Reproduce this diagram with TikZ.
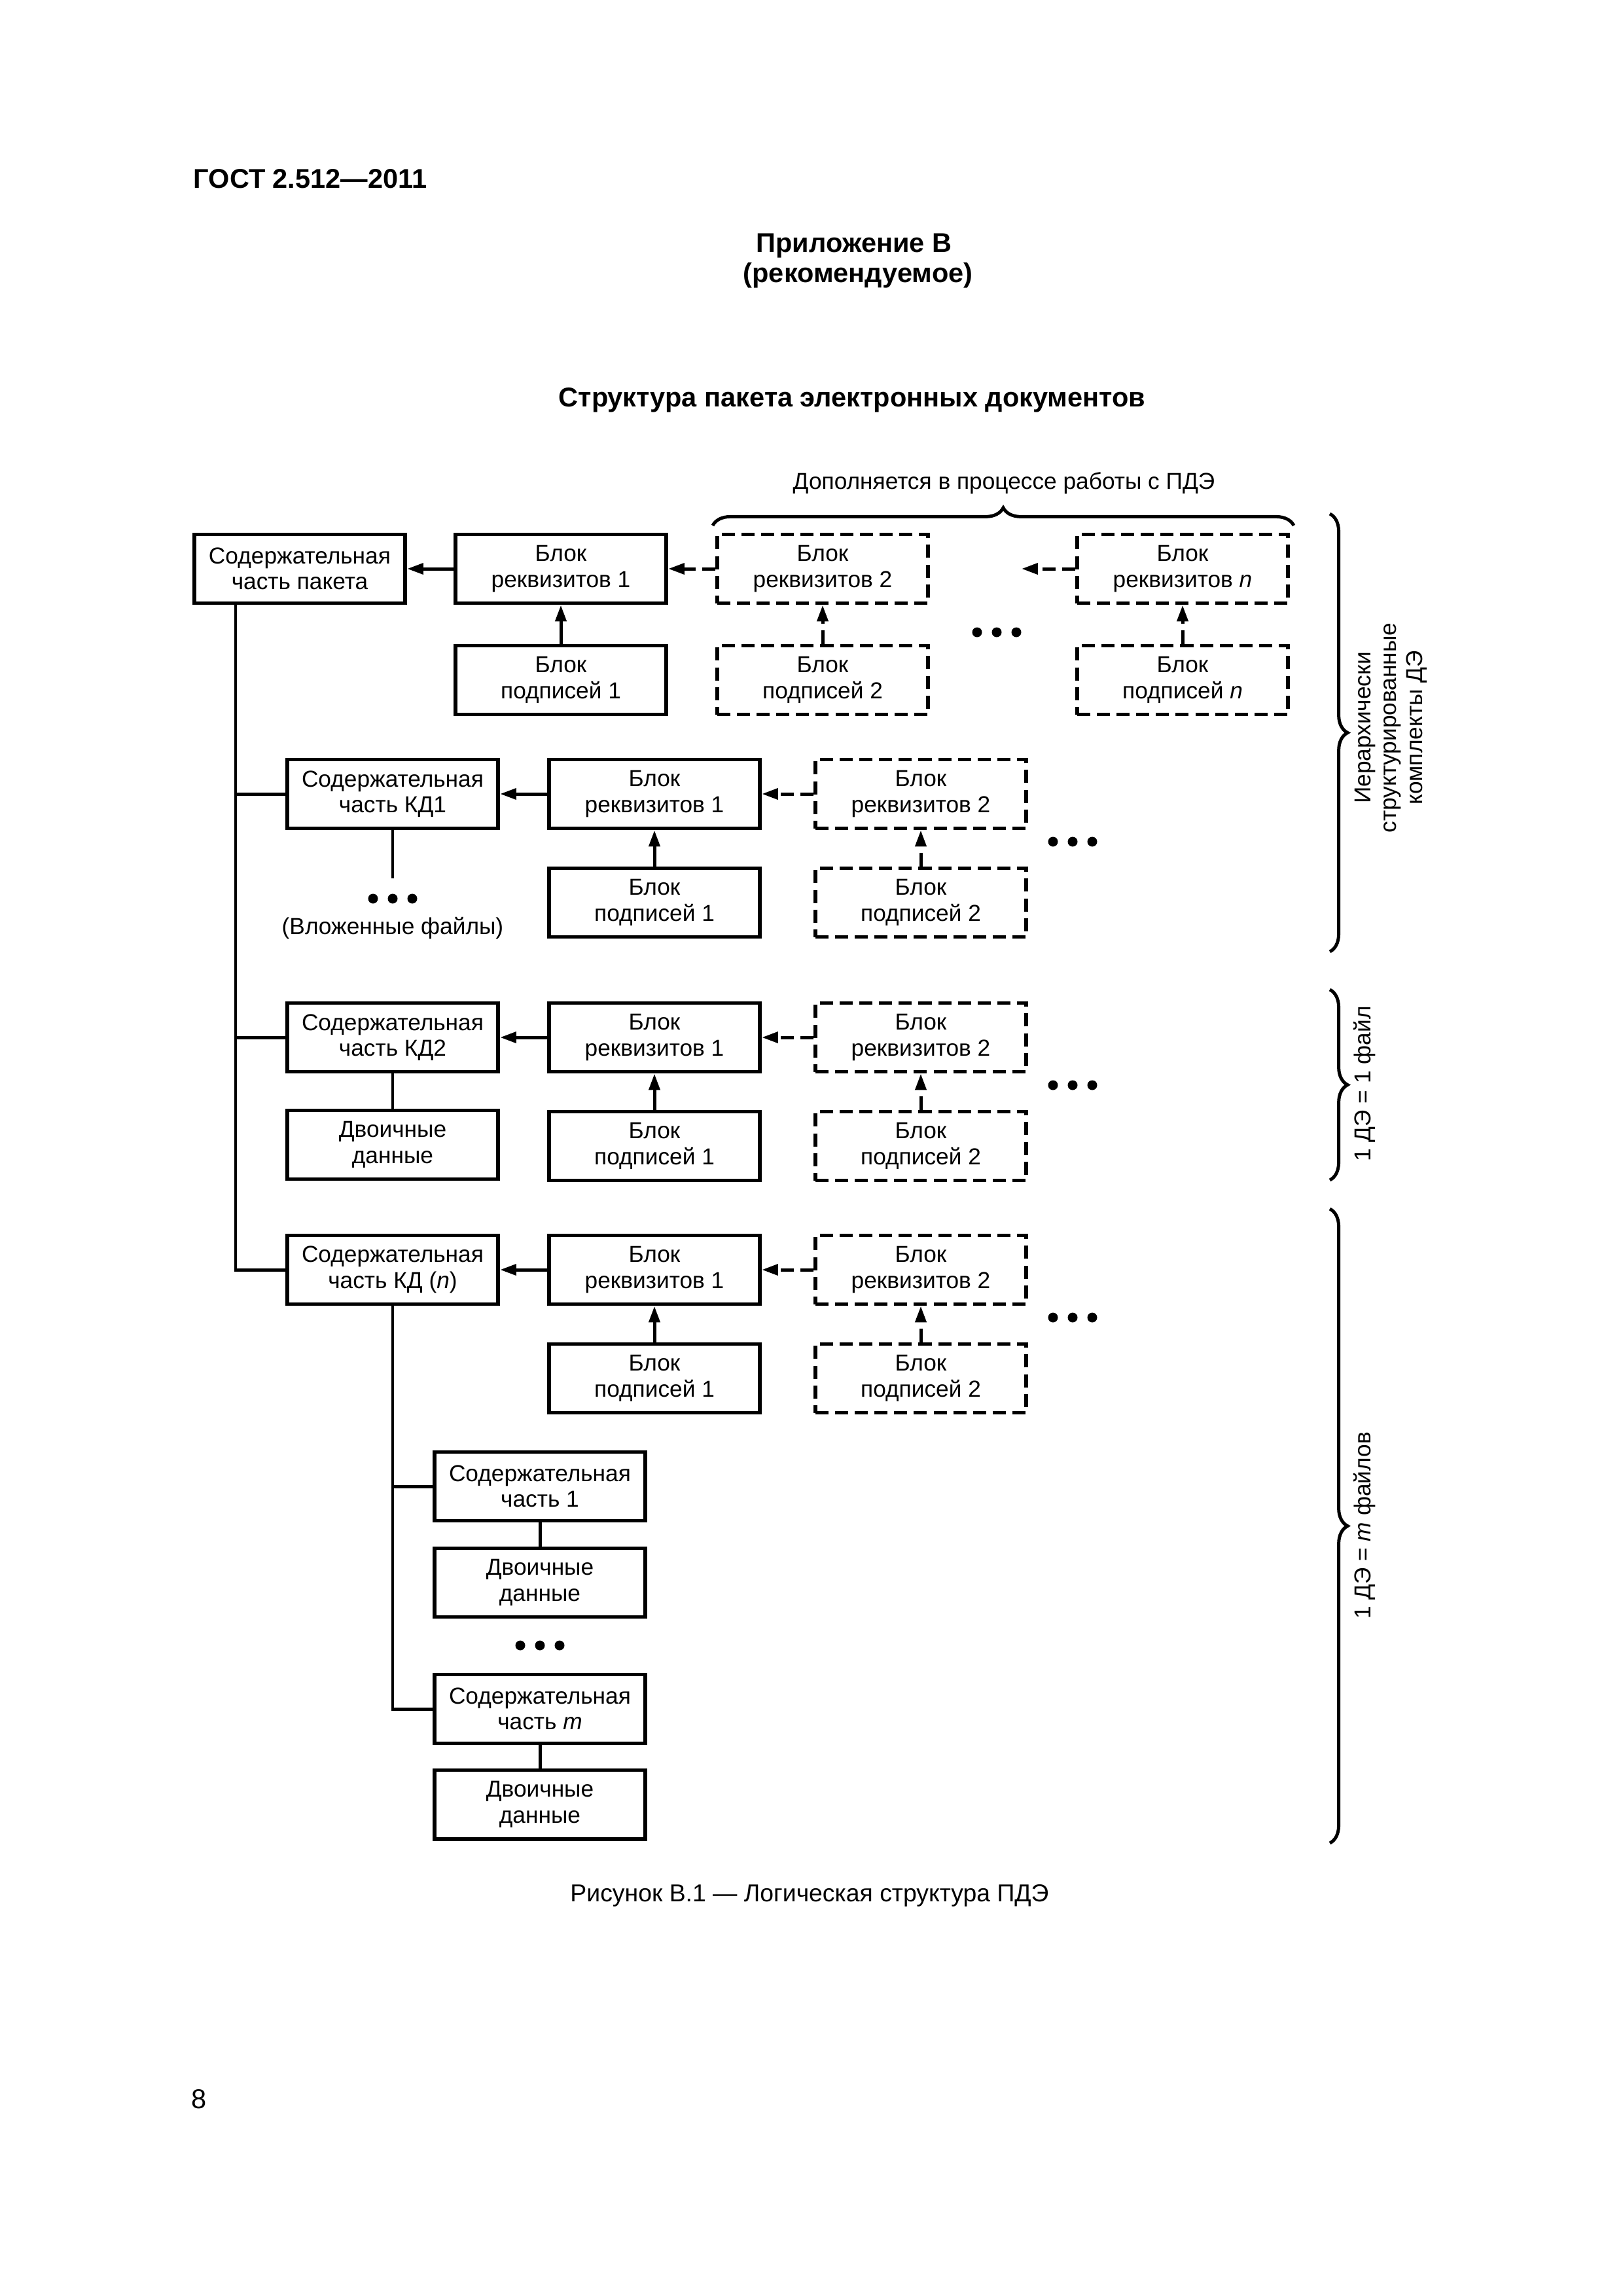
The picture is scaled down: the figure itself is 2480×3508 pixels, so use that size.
\documentclass[tikz,border=0pt]{standalone}
\usepackage{fontspec}
\setmainfont{Liberation Sans}
\usetikzlibrary{arrows.meta,decorations.pathreplacing,calc}

\tikzset{
  blk/.style={draw,line width=1.4pt,minimum width=27.3mm,minimum height=8.9mm,
    inner sep=0pt,align=center,font=\fontsize{8.5}{9.5}\selectfont},
  dblk/.style={blk,dash pattern=on 1.7mm off 0.85mm},
  ln/.style={line width=1.2pt},
  arr/.style={ln,-{Triangle[length=2.1mm,width=1.4mm]}},
  darr/.style={arr,dash pattern=on 1.7mm off 0.85mm},
  brc/.style={ln,decorate,decoration={brace,amplitude=2.3mm}},
  lbl/.style={font=\fontsize{8.5}{9.5}\selectfont,align=center},
  hdr/.style={font=\bfseries\fontsize{10}{12}\selectfont},
}

\begin{document}
\begin{tikzpicture}[x=0.0846774mm,y=-0.0846774mm]
  \useasboundingbox (0,0) rectangle (2480,3508);
  % page text
  \node[hdr,anchor=west,inner sep=0pt] (gost) at (295,273) {ГОСТ 2.512—2011};
  \node[hdr] (app) at (1305,376) {Приложение В};
  \node[hdr] (rec) at (1311,421) {(рекомендуемое)};
  \node[hdr] (title) at (1302,611) {Структура пакета электронных документов};

  % first row: package
  \node[blk] (P) at (458,869) {Содержательная\\часть пакета};
  \node[blk] (R1) at (857,869) {Блок\\реквизитов 1};
  \node[dblk] (R2) at (1257,869) {Блок\\реквизитов 2};
  \node[dblk] (Rn) at (1807,869) {Блок\\реквизитов \textit{n}};
  \node[blk] (S1) at (857,1039) {Блок\\подписей 1};
  \node[dblk] (S2) at (1257,1039) {Блок\\подписей 2};
  \node[dblk] (Sn) at (1807,1039) {Блок\\подписей \textit{n}};
  \coordinate (rnend) at (1561,869);
  \draw[arr] (R1) -- (P);
  \draw[darr] (R2) -- (R1);
  \draw[darr] (Rn) -- (rnend);
  \draw[arr] (S1) -- (R1);
  \draw[darr] (S2) -- (R2);
  \draw[darr] (Sn) -- (Rn);
  \foreach \dx in {-30,0,30} \fill (1523+\dx,966) circle (7.5);
  \draw[brc] (1089,803) -- (1977,803);
  \node[lbl] (add) at (1534,738) {Дополняется в процессе работы с ПДЭ};

  % trunk and KD rows
  \coordinate (trunk) at (360,1940);
  \foreach \i/\y/\kd in {a/1213/КД1,b/1585/КД2,c/1940/{КД (\textit{n})}}{
    \node[blk] (K\i) at (600,\y) {Содержательная\\часть \kd};
    \node[blk] (R\i) at (1000,\y) {Блок\\реквизитов 1};
    \node[dblk] (Q\i) at (1407,\y) {Блок\\реквизитов 2};
    \node[blk] (S\i) at (1000,\y+166) {Блок\\подписей 1};
    \node[dblk] (T\i) at (1407,\y+166) {Блок\\подписей 2};
    \draw[arr] (R\i) -- (K\i);
    \draw[darr] (Q\i) -- (R\i);
    \draw[arr] (S\i) -- (R\i);
    \draw[darr] (T\i) -- (Q\i);
    \foreach \dx in {-30,0,30} \fill (1639+\dx,\y+73) circle (7.5);
  }
  \draw[ln] (P.south -| trunk) -- (Kc.west -| trunk) -- (Kc);
  \draw[ln] (Ka.west -| trunk) -- (Ka);
  \draw[ln] (Kb.west -| trunk) -- (Kb);

  % nested files
  \coordinate (emb) at (600,1342);
  \draw[ln] (Ka) -- (emb);
  \foreach \dx in {-30,0,30} \fill (600+\dx,1373) circle (7.5);
  \node[lbl] (embtxt) at (600,1418) {(Вложенные файлы)};

  % one file
  \node[blk] (Db) at (600,1749) {Двоичные\\данные};
  \draw[ln] (Kb) -- (Db);

  % m files
  \node[blk] (C1) at (825,2271) {Содержательная\\часть 1};
  \node[blk] (D1) at (825,2418) {Двоичные\\данные};
  \node[blk] (Cm) at (825,2611) {Содержательная\\часть \textit{m}};
  \node[blk] (Dm) at (825,2757) {Двоичные\\данные};
  \draw[ln] (Kc) -- (Kc.south |- Cm.west) -- (Cm);
  \draw[ln] (C1.west -| Kc.south) -- (C1);
  \draw[ln] (C1) -- (D1);
  \draw[ln] (Cm) -- (Dm);
  \foreach \dx in {-30,0,30} \fill (825+\dx,2514) circle (7.5);

  % right braces
  \draw[brc] (2032,785) -- (2032,1454);
  \draw[brc] (2032,1512) -- (2032,1803);
  \draw[brc] (2032,1847) -- (2032,2816);
  \node[lbl,rotate=90] (hier) at (2125,1112)
    {Иерархически\\структурированные\\комплекты ДЭ};
  \node[lbl,rotate=90] (one) at (2085,1656) {1 ДЭ = 1 файл};
  \node[lbl,rotate=90] (many) at (2085,2331) {1 ДЭ = \textit{m} файлов};

  % caption
  \node[font=\fontsize{9}{11}\selectfont] (cap) at (1237,2896)
    {Рисунок В.1 — Логическая структура ПДЭ};
  \node[font=\fontsize{10}{12}\selectfont] (pg) at (304,3207) {8};
\end{tikzpicture}
\end{document}
